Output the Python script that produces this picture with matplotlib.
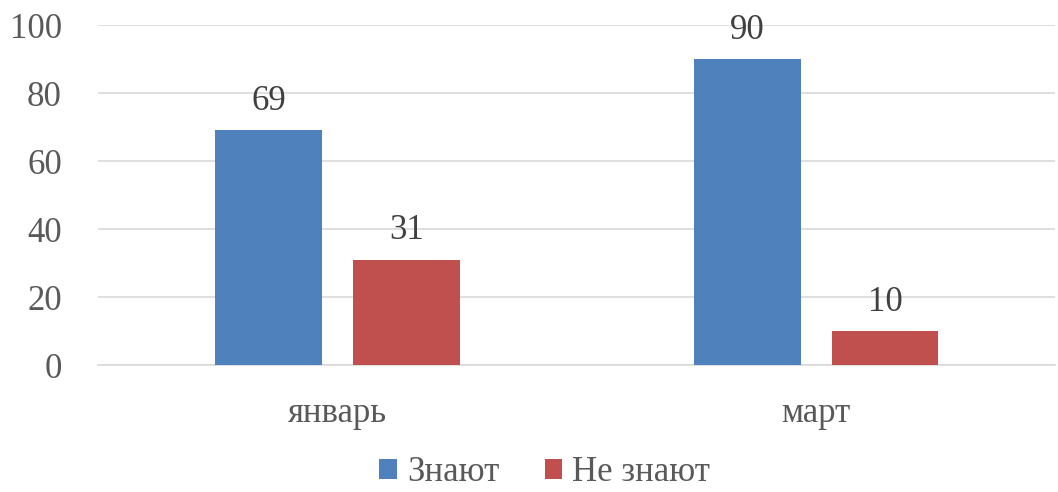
import matplotlib
matplotlib.use('Agg')
import matplotlib.pyplot as plt
import numpy as np

categories = ['январь', 'март']
series_names = ['Знают', 'Не знают']
znayut = [69, 90]
ne_znayut = [31, 10]
colors = ['#4f81bd', '#c0504d']

plt.rcParams['font.family'] = ['Liberation Serif', 'DejaVu Serif']
text_color = '#595959'
fsize = 25

fig = plt.figure(figsize=(10.58, 4.92), dpi=100)
ax = fig.add_axes([0.0926, 0.258, 0.905, 0.691])

x = np.arange(len(categories))
width = 0.223
offset = 0.144
for vals, name, color, sign in [(znayut, series_names[0], colors[0], -1),
                                (ne_znayut, series_names[1], colors[1], 1)]:
  bars = ax.bar(x + sign * offset, vals, width, color=color, label=name, zorder=3)
  for b, v in zip(bars, vals):
    ax.annotate(str(v), (b.get_x() + b.get_width() / 2, v), xytext=(0, 9),
                textcoords='offset points', ha='center', va='bottom',
                fontsize=fsize, color='#404040', family='Liberation Serif')

ax.set_xlim(-0.5, 1.5)
ax.set_ylim(0, 100)
ax.set_yticks(range(0, 101, 20))
ax.set_xticks(x)
ax.set_xticklabels(categories)
for lbl in ax.get_xticklabels() + ax.get_yticklabels():
  lbl.set_family('Liberation Serif')
ax.yaxis.grid(True, color='#d9d9d9', linewidth=1.2, zorder=0)
for s in ['top', 'right', 'left']:
  ax.spines[s].set_visible(False)
ax.spines['bottom'].set_color('#d9d9d9')
ax.spines['bottom'].set_linewidth(1.2)
ax.tick_params(axis='both', length=0, labelsize=fsize, colors=text_color)
ax.tick_params(axis='y', pad=26)
ax.tick_params(axis='x', pad=23)

fig.legend(loc='lower center', bbox_to_anchor=(0.515, -0.022), ncol=2, frameon=False,
           prop={'family': 'Liberation Serif', 'size': fsize}, labelcolor=text_color,
           handlelength=0.5, handleheight=0.5, handletextpad=0.3, columnspacing=1.3,
           borderaxespad=0.0)

fig.savefig('out.png', dpi=100)
